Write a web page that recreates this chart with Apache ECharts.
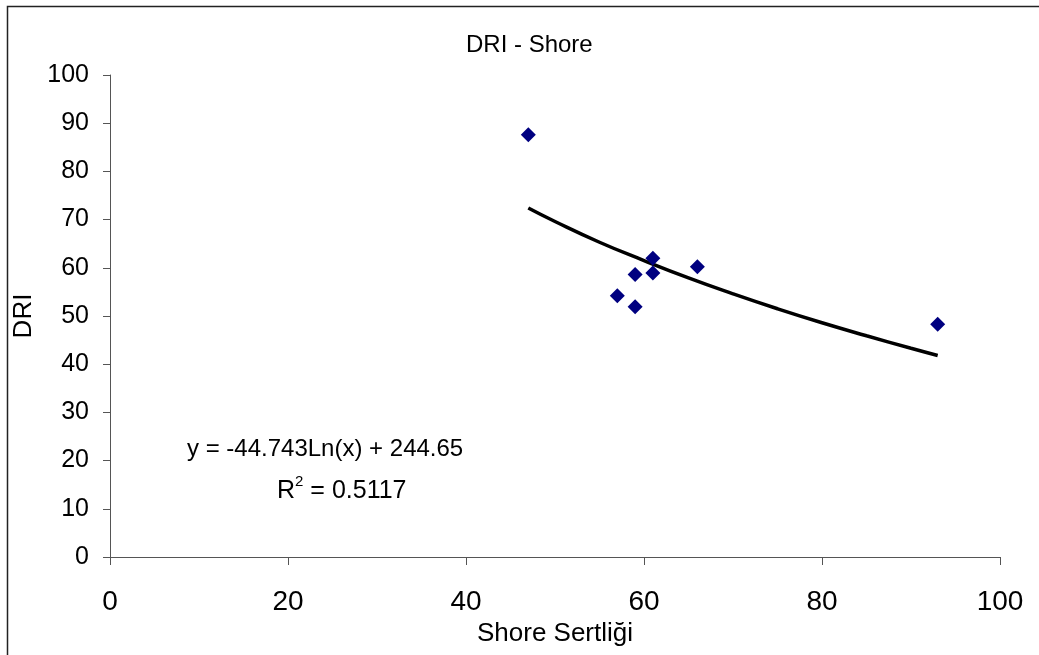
<!DOCTYPE html>
<html>
<head>
<meta charset="utf-8">
<script src="https://cdn.jsdelivr.net/npm/echarts@6/dist/echarts.min.js"></script>
<style>
  html, body { margin: 0; padding: 0; background: #fff; }
  #chart { width: 1039px; height: 655px; }
</style>
</head>
<body>
<div id="chart"></div>
<script>
// olcumler: Shore sertligi ve DRI
const shore = [47, 57, 59, 59, 61, 61, 66, 93];
const dri = [87.6, 54.2, 51.9, 58.6, 62.0, 58.9, 60.2, 48.3];

// logaritmik egilim cizgisi (resimden okunan noktalar)
const trendX = [47, 50, 55, 60, 65, 70, 75, 80, 85, 90, 93];
const trendY = [72.4, 69.6, 65.3, 61.5, 57.9, 54.6, 51.5, 48.6, 45.9, 43.3, 41.8];

const eqText = 'y = -44.743Ln(x) + 244.65';
const r2Value = '0.5117';

const font = '"Liberation Sans", Arial, sans-serif';
const chart = echarts.init(document.getElementById('chart'));

const option = {
    backgroundColor: '#fff',
    animation: false,
    title: {
        text: 'DRI - Shore',
        left: 461,
        top: 28,
        textStyle: { fontFamily: font, fontSize: 24, fontWeight: 'normal', color: '#000' }
    },
    grid: { left: 110, right: 39, top: 75, bottom: 98 },
    xAxis: {
        type: 'value',
        min: 0, max: 100, interval: 20,
        name: 'Shore Sertliği',
        nameLocation: 'middle',
        nameGap: 63,
        nameTextStyle: { fontFamily: font, fontSize: 26, color: '#000' },
        axisLine: { lineStyle: { color: '#555', width: 1 } },
        axisTick: { show: true, length: 8, lineStyle: { color: '#555' } },
        axisLabel: { fontFamily: font, fontSize: 28, color: '#000', margin: 31 },
        splitLine: { show: false }
    },
    yAxis: {
        type: 'value',
        min: 0, max: 100, interval: 10,
        name: 'DRI',
        nameLocation: 'middle',
        nameGap: 68,
        nameTextStyle: { fontFamily: font, fontSize: 26, color: '#000' },
        axisLine: { show: true, lineStyle: { color: '#555', width: 1 } },
        axisTick: { show: true, length: 7, lineStyle: { color: '#555' } },
        axisLabel: { fontFamily: font, fontSize: 25, color: '#000', margin: 21 },
        splitLine: { show: false }
    },
    graphic: [
        {
            type: 'rect',
            shape: { x: 7.5, y: 6.5, width: 1200, height: 1000 },
            style: { fill: 'none', stroke: '#222', lineWidth: 1.5 },
            silent: true
        },
        {
            type: 'text',
            left: 187,
            top: 437,
            style: { text: eqText, font: '24px ' + font, fill: '#000' }
        },
        {
            type: 'text',
            left: 277,
            top: 474,
            style: {
                text: '{r|R}{s|2}{r| = ' + r2Value + '}',
                rich: {
                    r: { font: '25px ' + font, fill: '#000', verticalAlign: 'bottom', lineHeight: 30 },
                    s: { font: '15px ' + font, fill: '#000', verticalAlign: 'top', lineHeight: 30 }
                }
            }
        }
    ],
    series: [
        {
            type: 'line',
            data: trendX.map((x, i) => [x, trendY[i]]),
            smooth: true,
            symbol: 'none',
            lineStyle: { color: '#000', width: 3.5 },
            z: 2
        },
        {
            type: 'scatter',
            data: shore.map((x, i) => [x, dri[i]]),
            symbol: 'diamond',
            symbolSize: 15,
            itemStyle: { color: '#000080', opacity: 1 },
            z: 3
        }
    ]
};

chart.setOption(option);
window.addEventListener('resize', function () { chart.resize(); });
</script>
</body>
</html>
